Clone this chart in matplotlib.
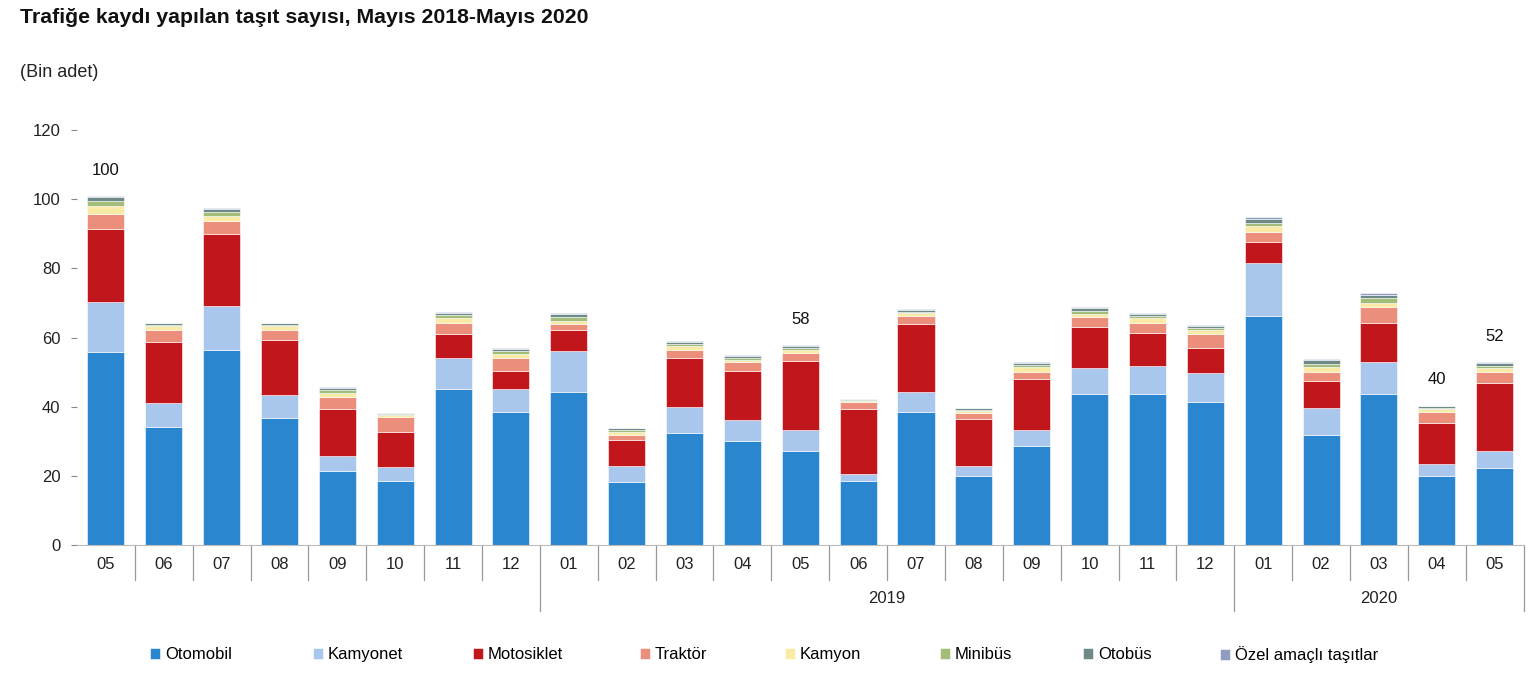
import matplotlib
matplotlib.use("Agg")
import matplotlib.pyplot as plt
import matplotlib.transforms as mtransforms
import numpy as np

plt.rcParams['font.family'] = ['Liberation Sans', 'DejaVu Sans']

months = ["05", "06", "07", "08", "09", "10", "11", "12",
          "01", "02", "03", "04", "05", "06", "07", "08", "09", "10", "11", "12",
          "01", "02", "03", "04", "05"]
years = ["2018"] * 8 + ["2019"] * 12 + ["2020"] * 5

series_names = ["Otomobil", "Kamyonet", "Motosiklet", "Traktör", "Kamyon",
                "Minibüs", "Otobüs", "Özel amaçlı taşıtlar"]

otomobil = [55.7, 34.2, 56.5, 36.8, 21.4, 18.6, 45.2, 38.6, 44.3, 18.3, 32.5, 30.1, 27.2,
            18.6, 38.6, 20.0, 28.7, 43.8, 43.8, 41.4, 66.1, 31.9, 43.8, 20.0, 22.3]
kamyonet = [14.7, 7.0, 12.5, 6.7, 4.4, 4.0, 9.0, 6.6, 11.9, 4.6, 7.5, 6.1, 6.1,
            2.0, 5.7, 2.9, 4.6, 7.5, 8.1, 8.2, 15.3, 7.8, 9.0, 3.5, 4.9]
motosiklet = [20.9, 17.4, 20.9, 15.9, 13.6, 10.2, 6.7, 5.2, 6.1, 7.5, 14.2, 14.2, 20.0,
              18.8, 19.5, 13.6, 14.8, 11.6, 9.5, 7.5, 6.1, 7.8, 11.5, 11.9, 19.5]
traktor = [4.4, 3.7, 3.7, 2.9, 3.5, 4.3, 3.4, 3.8, 1.5, 1.5, 2.3, 2.4, 2.3,
           2.0, 2.3, 1.8, 2.0, 2.9, 2.9, 3.8, 2.9, 2.6, 4.4, 3.2, 3.2]
kamyon = [2.3, 1.0, 1.5, 0.9, 1.1, 0.5, 1.2, 1.0, 0.9, 0.9, 0.9, 0.8, 0.9,
          0.3, 1.0, 0.5, 1.3, 0.9, 1.4, 1.3, 1.8, 1.5, 1.4, 0.6, 1.4]
minibus = [1.5, 0.4, 1.2, 0.5, 0.9, 0.3, 0.9, 0.9, 1.2, 0.5, 0.7, 0.5, 0.5,
           0.2, 0.4, 0.3, 0.6, 0.9, 0.6, 0.5, 1.0, 0.8, 1.2, 0.3, 0.6]
otobus = [1.0, 0.4, 0.8, 0.4, 0.6, 0.3, 0.8, 0.7, 1.0, 0.4, 0.7, 0.5, 0.5,
          0.3, 0.4, 0.4, 0.5, 0.8, 0.6, 0.5, 1.2, 1.2, 1.1, 0.6, 0.6]
ozel = [0.4, 0.2, 0.3, 0.2, 0.3, 0.1, 0.3, 0.3, 0.3, 0.2, 0.3, 0.2, 0.2,
        0.1, 0.2, 0.2, 0.3, 0.3, 0.3, 0.3, 0.4, 0.3, 0.4, 0.2, 0.3]

labels_idx = [0, 12, 23, 24]
labels_txt = ["100", "58", "40", "52"]

yticks = [0, 20, 40, 60, 80, 100, 120]

colors = ["#2A86CF", "#A9C7EC", "#C1161C", "#EB8F7C", "#FBEAA5",
          "#A3BD78", "#6E8A86", "#8E9CC0"]

series = [otomobil, kamyonet, motosiklet, traktor, kamyon, minibus, otobus, ozel]

fig = plt.figure(figsize=(15.39, 6.75), dpi=100)
ax = fig.add_axes([0.050, 0.1926, 0.940, 0.6148])

x = np.arange(len(months))
bottom = np.zeros(len(months))
handles = []
for name, vals, c in zip(series_names, series, colors):
    v = np.array(vals)
    b = ax.bar(x, v, bottom=bottom, width=0.64, color=c, label=name,
               edgecolor="white", linewidth=0.4)
    handles.append(b)
    bottom += v

for i, t in zip(labels_idx, labels_txt):
    ax.annotate(t, (x[i], bottom[i]), xytext=(0, 18.5), textcoords="offset points",
                ha="center", va="center", fontsize=12, color="#111111")

ax.set_xlim(-0.5, len(months) - 0.5)
ax.set_ylim(0, 120)
ax.set_yticks(yticks)
ax.set_yticklabels([str(v) for v in yticks], fontsize=12, color="#222222")
ax.tick_params(axis="y", length=4, width=0.8, color="#888888", pad=8)
ax.set_xticks(x)
ax.set_xticklabels(months, fontsize=12, color="#222222")
ax.tick_params(axis="x", length=0, pad=9)

for s in ["top", "right", "left"]:
    ax.spines[s].set_visible(False)
ax.spines["bottom"].set_color("#BBBBBB")
ax.spines["bottom"].set_linewidth(0.8)

trans = mtransforms.blended_transform_factory(ax.transData, ax.transAxes)
# separators between categories
for i in range(len(months)):
    xb = i + 0.5
    if i == len(months) - 1 or years[i] != years[i + 1]:
        ax.plot([xb, xb], [0, -0.16], transform=trans, color="#999999",
                lw=0.9, clip_on=False)
    else:
        ax.plot([xb, xb], [0, -0.085], transform=trans, color="#999999",
                lw=0.9, clip_on=False)

# year labels (2018 not written in the original)
for yr in ["2019", "2020"]:
    idx = [i for i, y in enumerate(years) if y == yr]
    ax.text(np.mean(idx), -0.13, yr, transform=trans, ha="center", va="center",
            fontsize=12, color="#222222")

fig.text(0.013, 0.974, "Trafiğe kaydı yapılan taşıt sayısı, Mayıs 2018-Mayıs 2020",
         fontsize=15.3, fontweight="bold", ha="left", va="center", color="#111111")
fig.text(0.013, 0.892, "(Bin adet)", fontsize=13, ha="left", va="center",
         color="#222222")

legend_x_px = [150, 313, 473, 640, 785, 940, 1083, 1220]
for h, name, xp in zip(handles, series_names, legend_x_px):
    fig.legend(handles=[h], labels=[name], loc="center left",
               bbox_to_anchor=(xp / 1539, 0.03), frameon=False, fontsize=12,
               handlelength=0.6, handleheight=0.6, handletextpad=0.3,
               borderpad=0, borderaxespad=0)

fig.savefig("out.png", dpi=100, facecolor="white")
